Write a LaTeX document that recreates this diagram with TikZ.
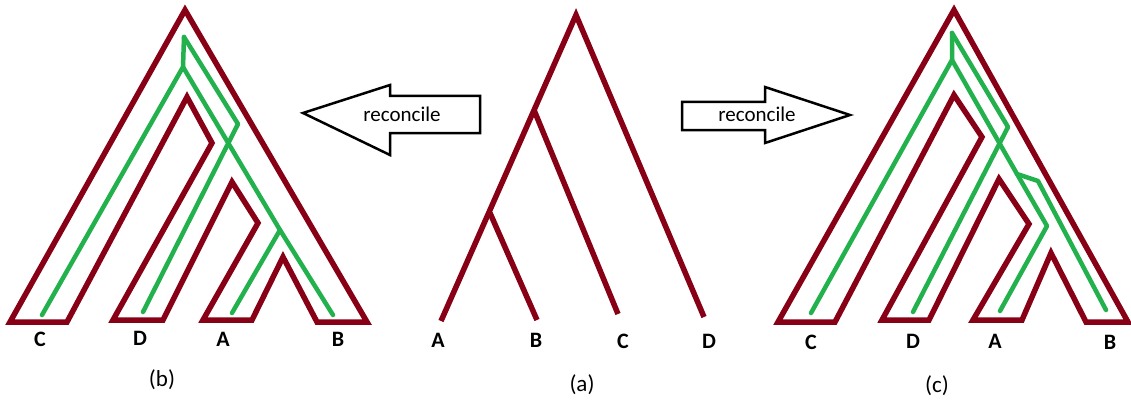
\documentclass[tikz,border=0pt]{standalone}
\usepackage{fontspec}
\setmainfont{Carlito}
\definecolor{treered}{HTML}{880015}
\definecolor{genegreen}{HTML}{22B14C}
\begin{document}
\begin{tikzpicture}[x=1pt,y=-1pt,
  species/.style={draw=treered,line width=5.5pt,line join=miter},
  geneline/.style={draw=genegreen,line width=4.5pt,line cap=round,line join=round},
  arrowbox/.style={draw=black,line width=2.5pt,fill=white,line join=miter},
  leaflabel/.style={font=\fontsize{22}{26}\selectfont\bfseries,inner sep=0pt},
  caption/.style={font=\fontsize{23}{26}\selectfont,inner sep=0pt},
  arrtext/.style={font=\fontsize{21}{24}\selectfont,inner sep=0pt}]
\useasboundingbox (0,0) rectangle (1131,401);

% ---------- (b) reconciled tree ----------
\draw[species] (10,322) -- (185,10) -- (367,322) -- (317,322) -- (283,257) -- (252,320)
  -- (203,320) -- (258,223) -- (232,182) -- (163,320) -- (113,320) -- (212,143)
  -- (187,97) -- (67,322) -- cycle;
\draw[geneline] (184,37) -- (183,67) -- (42,315);
\draw[geneline] (183,67) -- (280,230) -- (333,315);
\draw[geneline] (280,230) -- (232,313);
\draw[geneline] (184,37) -- (238,124) -- (143,312);
\node[leaflabel] (bC) at (40,339) {C};
\node[leaflabel] (bD) at (140,338) {D};
\node[leaflabel] (bA) at (223,339) {A};
\node[leaflabel] (bB) at (338,339) {B};
\node[caption] (bcap) at (162,380) {(b)};

% ---------- arrows ----------
\draw[arrowbox] (303,113) -- (390,85) -- (390,96) -- (480,96) -- (480,133) -- (390,133) -- (390,155) -- cycle;
\node[arrtext] (lrec) at (402,114) {reconcile};
\draw[arrowbox] (850,115) -- (765,87) -- (765,102) -- (682,102) -- (682,130) -- (765,130) -- (765,143) -- cycle;
\node[arrtext] (rrec) at (757,114) {reconcile};

% ---------- (a) gene tree ----------
\coordinate (root) at (576,15);
\coordinate (abc) at (534,110);
\coordinate (ab) at (490,213);
\coordinate (la) at (441,321);
\coordinate (lb) at (537,320);
\coordinate (lc) at (618,314);
\coordinate (ld) at (704,317);
\draw[species] (la) -- (root) -- (ld);
\draw[species] (ab) -- (lb);
\draw[species] (abc) -- (lc);
\node[leaflabel] (aA) at (438,340) {A};
\node[leaflabel] (aB) at (536,340) {B};
\node[leaflabel] (aC) at (623,341) {C};
\node[leaflabel] (aD) at (709,341) {D};
\node[caption] (acap) at (582,385) {(a)};

% ---------- (c) reconciled tree ----------
\draw[species] (778,322) -- (954,10) -- (1128,322) -- (1086,322) -- (1051,253) -- (1022,320)
  -- (973,320) -- (1029,224) -- (999,179) -- (929,320) -- (882,320) -- (982,137)
  -- (954,95) -- (835,322) -- cycle;
\draw[geneline] (952,33) -- (952,60) -- (811,313);
\draw[geneline] (952,33) -- (1008,127) -- (913,312);
\draw[geneline] (952,60) -- (1017,174) -- (1047,226) -- (1000,311);
\draw[geneline] (1017,174) -- (1038,181) -- (1106,310);
\node[leaflabel] (cC) at (811,342) {C};
\node[leaflabel] (cD) at (913,341) {D};
\node[leaflabel] (cA) at (995,341) {A};
\node[leaflabel] (cB) at (1110,342) {B};
\node[caption] (ccap) at (937,386) {(c)};
\end{tikzpicture}
\end{document}
